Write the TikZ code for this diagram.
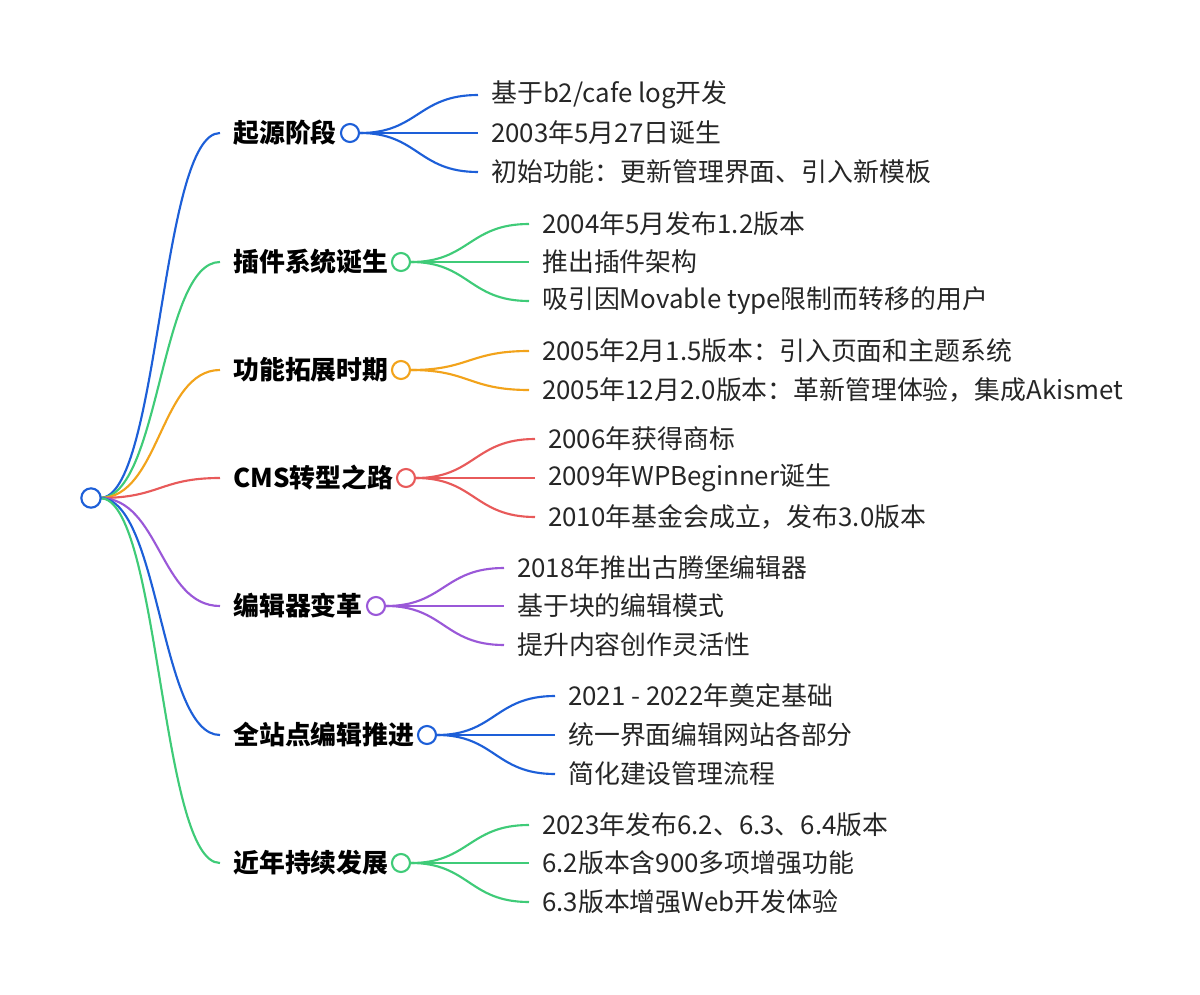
\documentclass[tikz,border=0pt]{standalone}
\usepackage{fontspec}
\setmainfont{Noto Sans CJK SC}
\begin{document}
\begin{tikzpicture}[x=0.75pt,y=-0.75pt,
  lf/.style={anchor=west,inner sep=0pt,font=\fontsize{19.4}{21}\selectfont,text=black!85},
  br/.style={anchor=west,inner sep=0pt,font=\fontsize{19.4}{21}\selectfont\bfseries},
  dot/.style={circle,draw,line width=1.6pt,fill=white,minimum size=13.5pt,inner sep=0pt},
  cv/.style={line width=1.6pt}]
\useasboundingbox (0,0) rectangle (1200,995);
\definecolor{cA}{HTML}{1D5FD8}
\definecolor{cB}{HTML}{3FCB78}
\definecolor{cC}{HTML}{F2A31B}
\definecolor{cD}{HTML}{E85A5A}
\definecolor{cE}{HTML}{9A58D8}
\coordinate (r) at (100,498);
\def\branch#1#2#3#4#5#6{%
  \coordinate (#1e) at (220,#3);
  \draw[cv,#2] (r) .. controls (160,498) and (160,#3) .. (#1e);
  \node[br] (#1t) at (233,#3) {#6};
  \node[dot,draw=#2] (#1c) at (#4,#3) {};
}
\def\leafx#1#2#3#4#5#6#7#8{%
  \coordinate (#1l#7) at (#5,#6);
  \draw[cv,#2] (#1c.east) .. controls ({(#4+#5)/2},#3) and ({(#4+#5)/2},#6) .. (#1l#7);
  \node[lf] (#1n#7) at (#5+13,#6) {#8};
}
\branch{a}{cA}{133}{350}{478}{起源阶段}
\leafx{a}{cA}{133}{358}{478}{95}{1}{基于b2/cafe log开发}
\leafx{a}{cA}{133}{358}{478}{133}{2}{2003年5月27日诞生}
\leafx{a}{cA}{133}{358}{478}{172}{3}{初始功能：更新管理界面、引入新模板}
\branch{b}{cB}{262}{401}{529}{插件系统诞生}
\leafx{b}{cB}{262}{409}{529}{224}{1}{2004年5月发布1.2版本}
\leafx{b}{cB}{262}{409}{529}{262}{2}{推出插件架构}
\leafx{b}{cB}{262}{409}{529}{301}{3}{吸引因Movable type限制而转移的用户}
\branch{c}{cC}{370}{401}{529}{功能拓展时期}
\leafx{c}{cC}{370}{409}{529}{351}{1}{2005年2月1.5版本：引入页面和主题系统}
\leafx{c}{cC}{370}{409}{529}{390}{2}{2005年12月2.0版本：革新管理体验，集成Akismet}
\branch{d}{cD}{478}{406}{535}{CMS转型之路}
\leafx{d}{cD}{478}{414}{535}{439}{1}{2006年获得商标}
\leafx{d}{cD}{478}{414}{535}{478}{2}{2009年WPBeginner诞生}
\leafx{d}{cD}{478}{414}{535}{517}{3}{2010年基金会成立，发布3.0版本}
\branch{e}{cE}{606}{376}{504}{编辑器变革}
\leafx{e}{cE}{606}{384}{504}{568}{1}{2018年推出古腾堡编辑器}
\leafx{e}{cE}{606}{384}{504}{606}{2}{基于块的编辑模式}
\leafx{e}{cE}{606}{384}{504}{645}{3}{提升内容创作灵活性}
\branch{f}{cA}{735}{427}{555}{全站点编辑推进}
\leafx{f}{cA}{735}{435}{555}{696}{1}{2021 - 2022年奠定基础}
\leafx{f}{cA}{735}{435}{555}{735}{2}{统一界面编辑网站各部分}
\leafx{f}{cA}{735}{435}{555}{774}{3}{简化建设管理流程}
\branch{g}{cB}{863}{401}{529}{近年持续发展}
\leafx{g}{cB}{863}{409}{529}{825}{1}{2023年发布6.2、6.3、6.4版本}
\leafx{g}{cB}{863}{409}{529}{863}{2}{6.2版本含900多项增强功能}
\leafx{g}{cB}{863}{409}{529}{902}{3}{6.3版本增强Web开发体验}
\node[dot,draw=cA,minimum size=14.5pt] (root) at (91,498) {};
\end{tikzpicture}
\end{document}
